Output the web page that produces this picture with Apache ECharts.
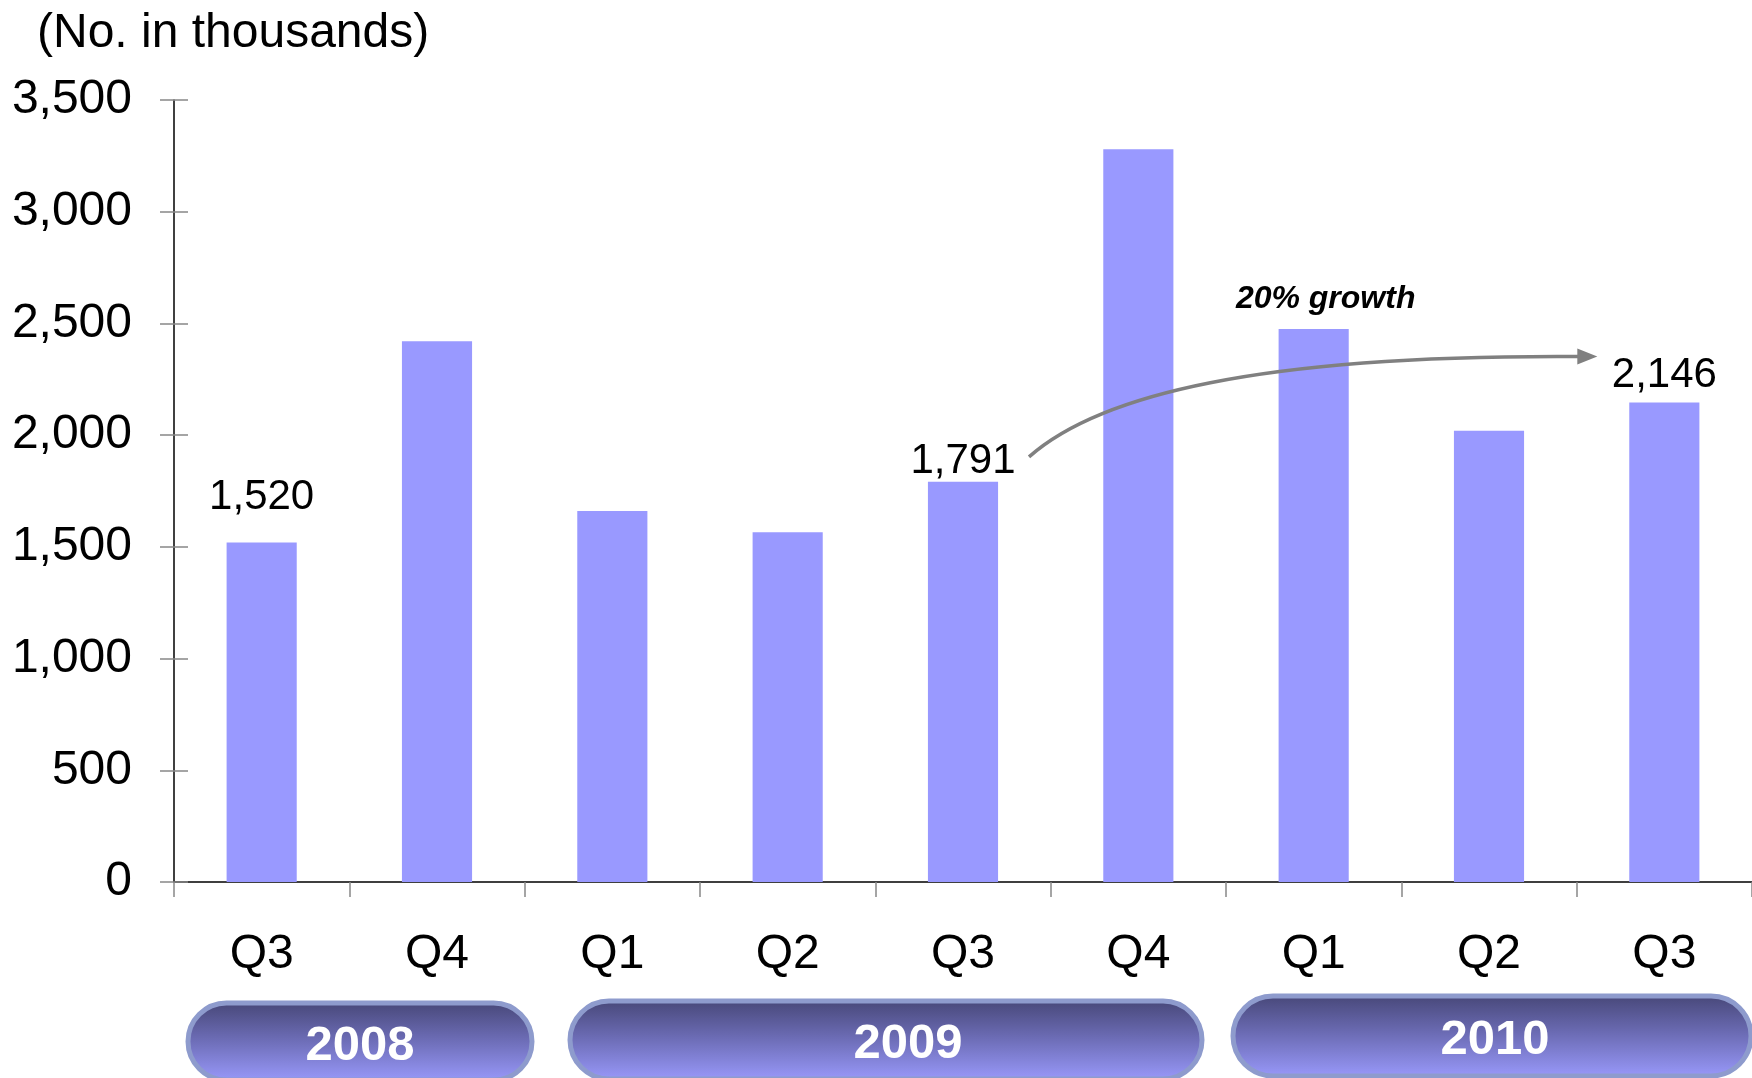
<!DOCTYPE html>
<html>
<head>
<meta charset="utf-8">
<script src="https://cdn.jsdelivr.net/npm/echarts@6/dist/echarts.min.js"></script>
<style>
html,body{margin:0;padding:0;background:#fff;}
#c{width:1752px;height:1078px;}
</style>
</head>
<body>
<div id="c"></div>
<script>
// ---- data ----
const categories = ['Q3', 'Q4', 'Q1', 'Q2', 'Q3', 'Q4', 'Q1', 'Q2', 'Q3'];
const values = [1520, 2420, 1660, 1565, 1791, 3280, 2475, 2020, 2146];
const labelledIndices = [0, 4, 8];
const yMin = 0, yMax = 3500, yStep = 500;
const years = ['2008', '2009', '2010'];
const axisTitle = '(No. in thousands)';
const growthText = '20% growth';

// ---- styles ----
const FONT = '"Liberation Sans", Arial, sans-serif';
const labelDistance = { 0: 24, 4: -1, 8: 6 };

const fmt = v => v.toLocaleString('en-US');

const seriesData = values.map((v, i) => {
  const item = { value: v };
  if (labelledIndices.includes(i)) {
    item.label = {
      show: true, position: 'top', distance: labelDistance[i],
      formatter: p => fmt(p.value), fontSize: 42, color: '#000', fontFamily: FONT
    };
  }
  return item;
});

const chart = echarts.init(document.getElementById('c'), null, { renderer: 'canvas' });

const option = {
  animation: false,
  backgroundColor: '#fff',
  grid: { left: 174, right: -2, top: 100, bottom: 196, containLabel: false },
  xAxis: {
    type: 'category',
    data: categories,
    boundaryGap: true,
    axisLine: { show: true, lineStyle: { color: '#000', width: 1.5 } },
    axisTick: { show: true, alignWithLabel: false, length: 15, lineStyle: { color: '#888', width: 1.5 } },
    axisLabel: { fontSize: 48, color: '#000', fontFamily: FONT, margin: 49 }
  },
  yAxis: [{
    type: 'value', min: yMin, max: yMax, interval: yStep,
    axisLine: { show: true, lineStyle: { color: '#000', width: 1.5 } },
    axisTick: { show: true, length: 14, lineStyle: { color: '#888', width: 1.5 } },
    splitLine: { show: false },
    axisLabel: { fontSize: 48, color: '#000', fontFamily: FONT, margin: 42, formatter: v => fmt(v) }
  }, {
    type: 'value', min: yMin, max: yMax, interval: yStep, position: 'left', offset: 0,
    axisLine: { show: false },
    axisTick: { show: true, inside: true, length: 14, lineStyle: { color: '#888', width: 1.5 } },
    splitLine: { show: false },
    axisLabel: { show: false }
  }],
  series: [{
    type: 'bar',
    data: seriesData,
    barWidth: '40%',
    itemStyle: { color: '#9999FF' },
    yAxisIndex: 0
  }]
};
chart.setOption(option);

// ---- annotations (computed from axis pixels) ----
const px = (i, v) => chart.convertToPixel({ xAxisIndex: 0, yAxisIndex: 0 }, [i, v]);
const pStart = px(4, values[4]);
const pEnd = px(8, values[8]);
const pGrowth = px(6, values[6]);
const s = [pStart[0] + 66, pStart[1] - 25];
const tip = [pEnd[0] - 67, pEnd[1] - 46];
const e = [tip[0] - 18, tip[1]];
const arrowColor = '#808080';

const pills = [
  { text: years[0], x: 188, y: 1003, w: 344, h: 77, tx: 360, ty: 1046 },
  { text: years[1], x: 570, y: 1001, w: 632, h: 78, tx: 908, ty: 1044 },
  { text: years[2], x: 1233, y: 996, w: 518, h: 80, tx: 1495, ty: 1040 }
];

const graphics = [
  {
    type: 'text', left: 37, top: 10, z: 100,
    style: { text: axisTitle, font: '48px ' + FONT, fill: '#000' }
  },
  {
    type: 'bezierCurve', z: 100,
    shape: { x1: s[0], y1: s[1], cpx1: s[0] + 70, cpy1: s[1] - 62, cpx2: s[0] + 230, cpy2: e[1] - 2, x2: e[0], y2: e[1] },
    style: { stroke: arrowColor, lineWidth: 3.5, fill: null }
  },
  {
    type: 'polygon', z: 100,
    shape: { points: [[tip[0], tip[1]], [tip[0] - 20, tip[1] - 8], [tip[0] - 20, tip[1] + 8]] },
    style: { fill: arrowColor }
  },
  {
    type: 'text', x: pGrowth[0] + 12, y: pGrowth[1] - 30, z: 100,
    style: { text: growthText, font: 'italic bold 32px ' + FONT, fill: '#000', align: 'center', verticalAlign: 'middle' }
  }
];

pills.forEach(p => {
  graphics.push({
    type: 'rect', z: 100,
    shape: { x: p.x, y: p.y, width: p.w, height: p.h, r: p.h / 2 },
    style: {
      fill: new echarts.graphic.LinearGradient(0, 0, 0, 1, [
        { offset: 0, color: '#464676' },
        { offset: 0.45, color: '#6a6ab2' },
        { offset: 1, color: '#9a9afc' }
      ]),
      stroke: '#8e9bcd', lineWidth: 5
    }
  });
  graphics.push({
    type: 'text', x: p.tx, y: p.ty, z: 101,
    style: { text: p.text, font: 'bold 49px ' + FONT, fill: '#fff', align: 'center', verticalAlign: 'middle' }
  });
});

chart.setOption({ graphic: graphics });
</script>
</body>
</html>
